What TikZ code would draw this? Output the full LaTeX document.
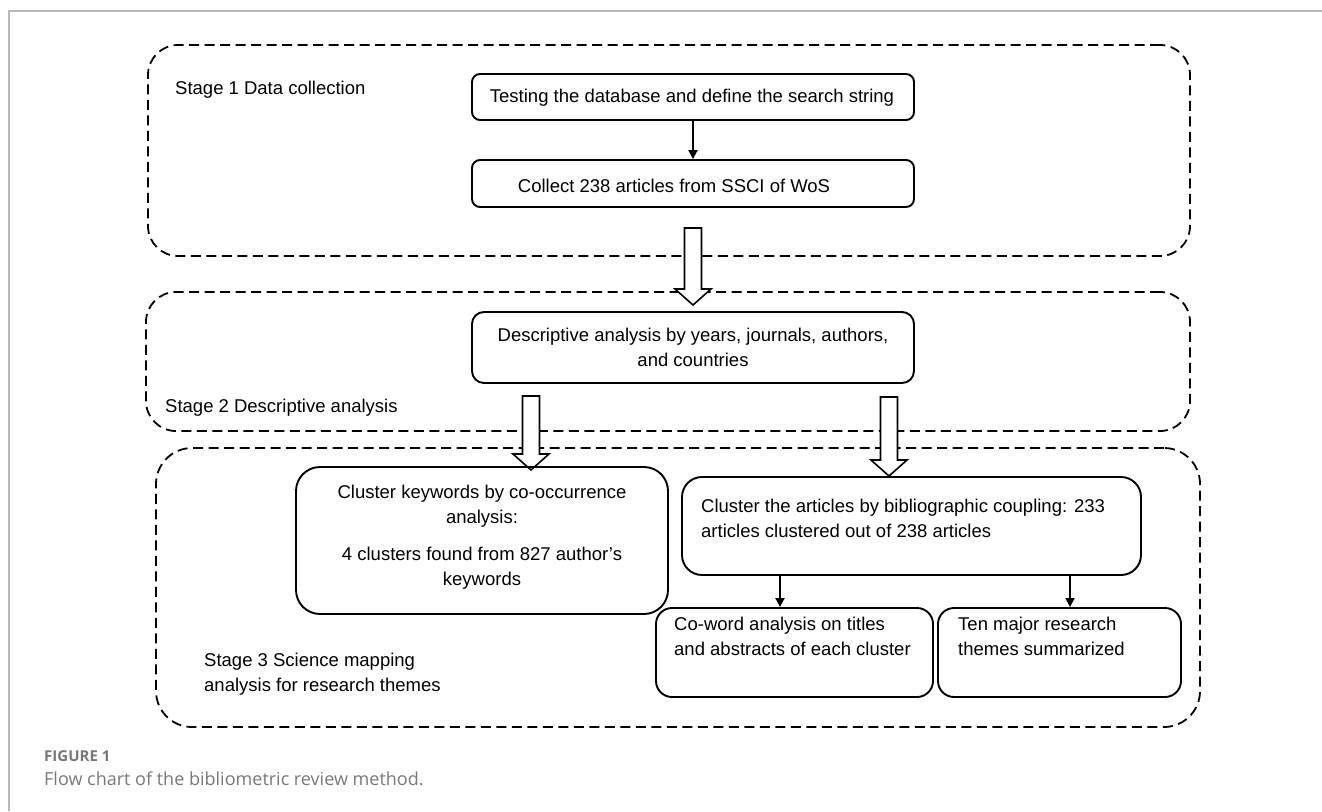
\documentclass[tikz,border=0pt]{standalone}
\usepackage{fontspec}
\setmainfont{Liberation Sans}
\newfontfamily\capfont{Open Sans}
\usetikzlibrary{arrows.meta,calc}
\definecolor{framegray}{RGB}{185,185,185}
\definecolor{capgray}{RGB}{120,120,120}
\newcommand\blockarrow[2]{%
  \draw[blockarr] ($(#1)+(-8.5,0)$) -- ($(#1)+(8.5,0)$) -- ($(#2)+(8.5,-16)$) -- ($(#2)+(18,-16)$) -- (#2) -- ($(#2)+(-18,-16)$) -- ($(#2)+(-8.5,-16)$) -- cycle;}
\begin{document}
\begin{tikzpicture}[x=1pt,y=-1pt,
  stagebox/.style={draw, line width=1.8pt, dash pattern=on 10pt off 5.5pt, inner sep=0pt},
  procbox/.style={draw, line width=1.9pt, inner sep=0pt},
  txt/.style={inner sep=0pt, font=\fontsize{18.5}{25}\selectfont},
  thinarrow/.style={line width=1.9pt, -{Triangle[length=9pt,width=9pt]}},
  blockarr/.style={draw, fill=white, line width=1.6pt, line join=miter}
]
\useasboundingbox (0,0) rectangle (1322,811);
% frame of the figure panel
\draw[framegray, line width=1.6pt] (1322,11) -- (9,11) -- (9,811);

% stage boxes
\node[stagebox, rounded corners=30pt, minimum width=1042pt, minimum height=211pt] (s1) at (669,150.5) {};
\node[stagebox, rounded corners=30pt, minimum width=1044pt, minimum height=139pt] (s2) at (668,361.5) {};
\node[stagebox, rounded corners=36pt, minimum width=1044pt, minimum height=279pt] (s3) at (678,587.5) {};

\node[txt, anchor=west] (s1t) at (175,90) {Stage 1 Data collection};
\node[txt, anchor=west] (s2t) at (165,408) {Stage 2 Descriptive analysis};
\node[txt, anchor=west, align=left] (s3t) at (204,674) {Stage 3 Science mapping\\analysis for research themes};

% block arrows
\coordinate (a1s) at (693,228);
\coordinate (a1e) at (693,305);
\coordinate (a2s) at (531,396);
\coordinate (a2e) at (531,470);
\coordinate (a3s) at (889,397);
\coordinate (a3e) at (889,476);
\blockarrow{a1s}{a1e}
\blockarrow{a2s}{a2e}
\blockarrow{a3s}{a3e}

% process boxes
\node[procbox, rounded corners=8pt, minimum width=442pt, minimum height=46pt] (bA) at (693,97) {};
\node[procbox, rounded corners=8pt, minimum width=442pt, minimum height=47pt] (bB) at (693,183.5) {};
\node[procbox, rounded corners=12pt, minimum width=442pt, minimum height=71pt] (bC) at (693,347.5) {};
\node[procbox, rounded corners=24pt, minimum width=372pt, minimum height=147pt] (bD) at (482,540.5) {};
\node[procbox, rounded corners=20pt, minimum width=459pt, minimum height=98pt] (bE) at (911.5,526) {};
\node[procbox, rounded corners=16pt, minimum width=277pt, minimum height=89pt] (bF) at (794.5,652.5) {};
\node[procbox, rounded corners=16pt, minimum width=243pt, minimum height=89pt] (bG) at (1059.5,652.5) {};

\node[txt] (tA) at (692,98) {Testing the database and define the search string};
\node[txt] (tB) at (674,186) {Collect 238 articles from SSCI of WoS};
\node[txt, align=center] (tC) at (693,347) {Descriptive analysis by years, journals, authors,\\and countries};
\node[txt, align=center] (tD) at (482,537) {Cluster keywords by co-occurrence\\analysis:\\[12pt]4 clusters found from 827 author’s\\keywords};
\node[txt, anchor=west, align=left] (tE) at (701,518) {Cluster the articles by bibliographic coupling: 233\\articles clustered out of 238 articles};
\node[txt, anchor=west, align=left] (tF) at (674,636) {Co-word analysis on titles\\and abstracts of each cluster};
\node[txt, anchor=west, align=left] (tG) at (958,636) {Ten major research\\themes summarized};

% thin arrows
\coordinate (xF) at (780,0);
\coordinate (xG) at (1070,0);
\draw[thinarrow] (bA) -- (bB);
\draw[thinarrow] (bE.south -| xF) -- (bF.north -| xF);
\draw[thinarrow] (bE.south -| xG) -- (bG.north -| xG);

% caption
\node[inner sep=0pt, anchor=west, text=capgray, font=\capfont\bfseries\fontsize{15}{18}\selectfont] (cap1) at (44,756) {FIGURE 1};
\node[inner sep=0pt, anchor=west, text=capgray, font=\capfont\fontsize{18}{22}\selectfont] (cap2) at (44,779) {Flow chart of the bibliometric review method.};
\end{tikzpicture}
\end{document}
